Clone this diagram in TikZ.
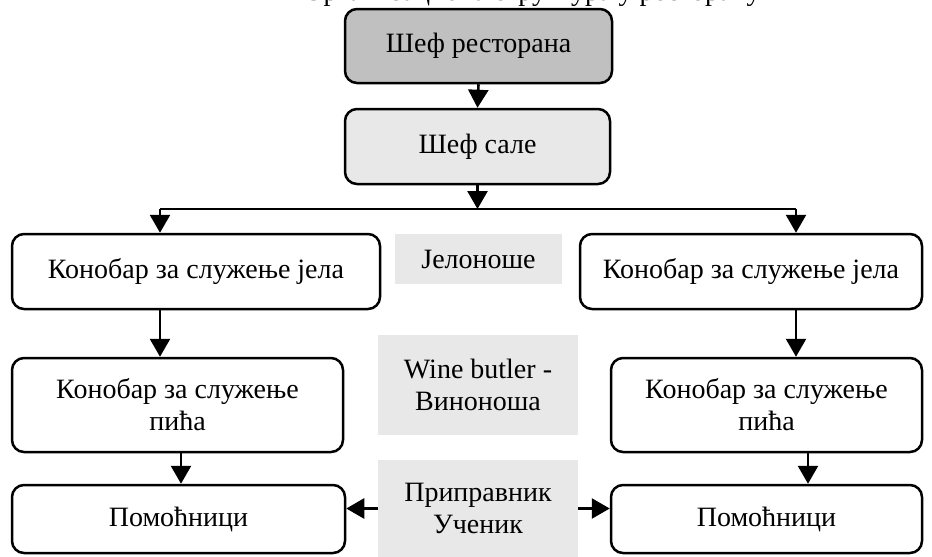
\documentclass[tikz,border=0pt]{standalone}
\usepackage{fontspec}
\setmainfont{Liberation Serif}
\usetikzlibrary{arrows.meta}
\definecolor{headfill}{HTML}{C0C0C0}
\definecolor{lightfill}{HTML}{E8E8E8}
\begin{document}
\begin{tikzpicture}[x=1pt,y=-1pt,
  every node/.style={font=\fontsize{28}{32}\selectfont, inner sep=0pt},
  rolebox/.style={draw, align=center, line width=2.5pt, rounded corners=12pt, fill=white},
  tagbox/.style={align=center, fill=lightfill},
  link/.style={line width=2.6pt, -{Triangle[width=20pt,length=18pt]}},
  rail/.style={line width=2.4pt}
]
\useasboundingbox (0,0) rectangle (932,557);
% heading line, mostly above the page edge
\node[anchor=base] (title) at (532,0) {Организациона структура у ресторану};

\node[rolebox, fill=headfill, minimum width=267pt, minimum height=74pt] (r) at (478.5,46) {Шеф ресторана};
\node[rolebox, fill=lightfill, minimum width=265pt, minimum height=75pt] (s) at (477.5,146.5) {Шеф сале};

\node[rolebox, minimum width=368pt, minimum height=75pt] (k1) at (196,271.5) {Конобар за служење јела};
\node[rolebox, minimum width=342pt, minimum height=75pt] (k2) at (751,271.5) {Конобар за служење јела};
\node[tagbox, minimum width=167pt, minimum height=50pt] (j) at (478.5,259) {Јелоноше};

\node[rolebox, minimum width=331pt, minimum height=94pt] (p1) at (177.5,405) {Конобар за служење\\пића};
\node[rolebox, minimum width=311pt, minimum height=94pt] (p2) at (766.5,405) {Конобар за служење\\пића};
\node[tagbox, minimum width=200pt, minimum height=100pt] (w) at (478,385) {Wine butler -\\Виноноша};

\node[rolebox, minimum width=333pt, minimum height=68pt] (m1) at (178.5,519) {Помоћници};
\node[rolebox, minimum width=311pt, minimum height=68pt] (m2) at (766.5,519) {Помоћници};
\node[tagbox, minimum width=200pt, minimum height=97pt] (a) at (478,508.5) {Приправник\\Ученик};

% connectors
\coordinate (bl) at (160,209);
\coordinate (br) at (796,209);
\coordinate (ml) at (181,0);
\coordinate (mr) at (808,0);

\draw[link] (r.south) -- (s.north);
\draw[link] (s.south) -- (s.south |- bl);
\draw[rail] (bl) -- (br);
\draw[link] (bl) -- (bl |- k1.north);
\draw[link] (br) -- (br |- k2.north);
\draw[link] (bl |- k1.south) -- (bl |- p1.north);
\draw[link] (br |- k2.south) -- (br |- p2.north);
\draw[link] (ml |- p1.south) -- (ml |- m1.north);
\draw[link] (mr |- p2.south) -- (mr |- m2.north);
\draw[link] (a.west) -- (a.west -| m1.east);
\draw[link] (a.east) -- (a.east -| m2.west);
\end{tikzpicture}
\end{document}
